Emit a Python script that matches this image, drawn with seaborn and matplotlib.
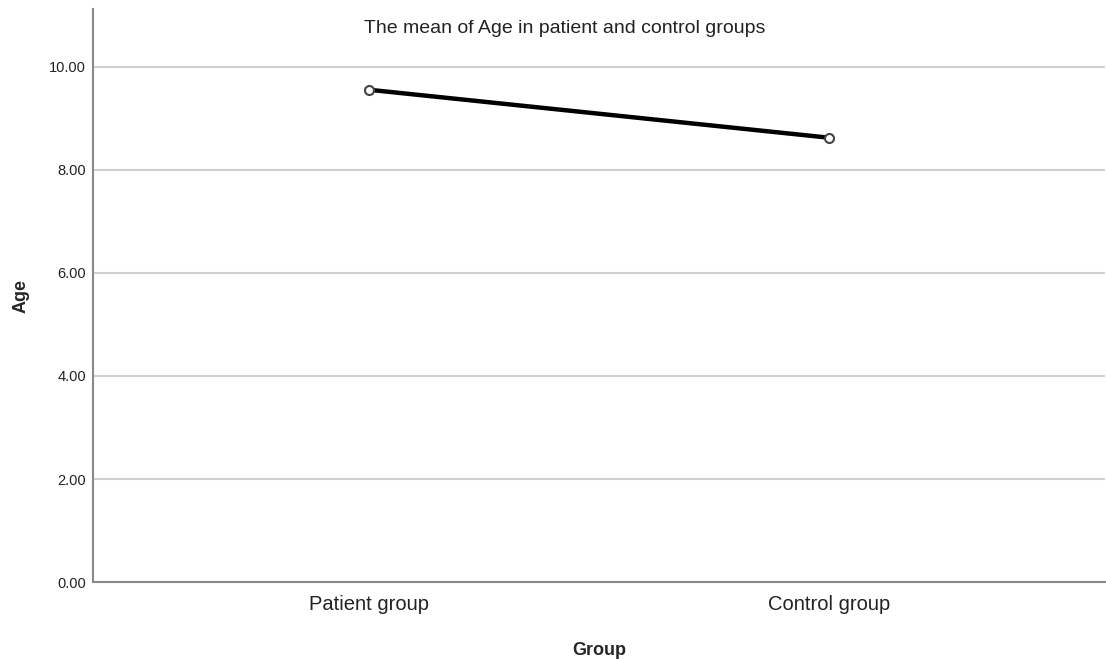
import matplotlib
matplotlib.use("Agg")
import pandas as pd
import seaborn as sns
import matplotlib.pyplot as plt

groups = ["Patient group", "Control group"]
mean_age = [9.55, 8.62]
y_ticks = [0, 2, 4, 6, 8, 10]

df = pd.DataFrame({"Group": groups, "Age": mean_age})

sns.set_style("white")
plt.rcParams["font.family"] = ["Liberation Sans", "DejaVu Sans"]

fig = plt.figure(figsize=(11.06, 6.59), dpi=100)
ax = fig.add_axes([0.0841, 0.1164, 0.915, 0.8695])

sns.lineplot(data=df, x="Group", y="Age", ax=ax, color="black", linewidth=3.2,
             marker="o", markersize=6.5, markerfacecolor="white",
             markeredgecolor="#444444", markeredgewidth=1.5, sort=False)

ax.set_xlim(-0.6, 1.6)
ax.set_ylim(0, 11.11)
ax.set_yticks(y_ticks)
ax.set_yticklabels([f"{v:.2f}" for v in y_ticks], fontsize=10.5, color="#222222")
ax.tick_params(axis="x", labelsize=14.5, length=0, pad=9, labelcolor="#222222")
ax.tick_params(axis="y", length=0, pad=5)
ax.yaxis.grid(True, color="#d0d0d0", linewidth=1.5)
ax.set_axisbelow(True)

for s in ["top", "right"]:
    ax.spines[s].set_visible(False)
for s in ["left", "bottom"]:
    ax.spines[s].set_color("#888888")
    ax.spines[s].set_linewidth(1.5)

ax.set_xlabel("Group", fontsize=13, fontweight="bold", labelpad=20)
ax.set_ylabel("Age", fontsize=13, fontweight="bold", labelpad=14)

fig.text(0.511, 0.957, "The mean of Age in patient and control groups",
         ha="center", va="center", fontsize=14, color="#222222")

fig.savefig("out.png", dpi=100)
